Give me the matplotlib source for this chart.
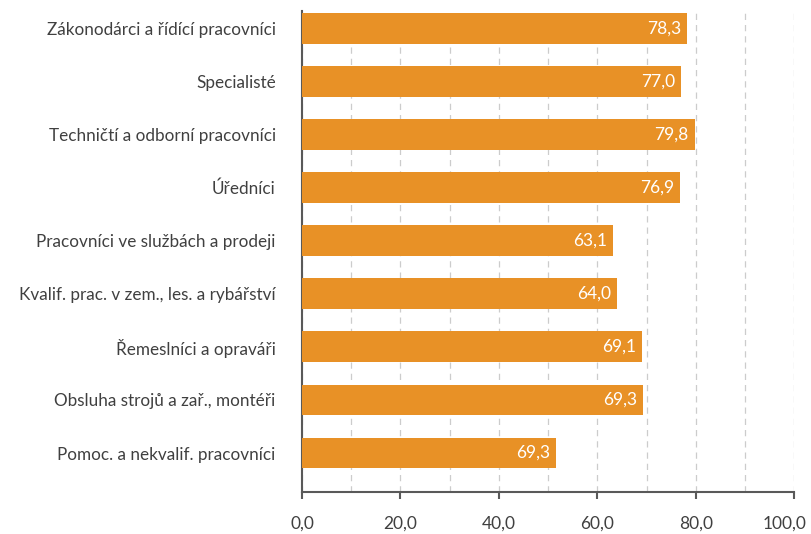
import matplotlib.pyplot as plt
import matplotlib.transforms as mtransforms
import numpy as np

categories = [
    "Zákonodárci a řídící pracovníci",
    "Specialisté",
    "Techničtí a odborní pracovníci",
    "Úředníci",
    "Pracovníci ve službách a prodeji",
    "Kvalif. prac. v zem., les. a rybářství",
    "Řemeslníci a opraváři",
    "Obsluha strojů a zař., montéři",
    "Pomoc. a nekvalif. pracovníci",
]
# bar lengths as drawn in the picture
values = [78.3, 77.0, 79.8, 76.9, 63.1, 64.0, 69.1, 69.3, 51.6]
# labels as printed on the bars
labels = ["78,3", "77,0", "79,8", "76,9", "63,1", "64,0", "69,1", "69,3", "69,3"]
ticks = [0, 20, 40, 60, 80, 100]


def main():
    plt.rcParams["font.family"] = ["Lato", "DejaVu Sans"]
    fig = plt.figure(figsize=(8.12, 5.34), dpi=100)
    ax = fig.add_axes([0.372, 0.079, 0.606, 0.900])

    y = np.arange(len(categories))
    ax.barh(y, values, height=0.58, color="#E89126", zorder=3)

    for yi, v, lab in zip(y, values, labels):
        ax.text(v - 1.2, yi, lab, ha="right", va="center", color="white",
                fontsize=12.5, zorder=4)

    ax.set_yticks(y)
    ax.set_yticklabels(categories, fontsize=12.3, color="#404040")
    ax.tick_params(axis="y", length=0, pad=19)
    ax.set_ylim(8.73, -0.32)

    ax.set_xlim(0, 100)
    ax.set_xticks(ticks)
    ax.set_xticklabels(["{:.1f}".format(t).replace(".", ",") for t in ticks],
                       fontsize=12.5, color="#404040")
    ax.set_xticks(np.arange(10, 101, 10), minor=True)
    ax.tick_params(axis="x", which="major", length=5, width=1.5,
                   color="#595959", pad=12)
    ax.tick_params(axis="x", which="minor", length=0)
    ax.grid(axis="x", which="both", linestyle=(0, (5, 4)), color="#cccccc",
            linewidth=0.9, zorder=0)

    # keep the last tick label inside the figure
    last = ax.get_xticklabels()[-1]
    last.set_transform(last.get_transform() +
                       mtransforms.ScaledTranslation(-7 / 72, 0, fig.dpi_scale_trans))

    for s in ["top", "right"]:
        ax.spines[s].set_visible(False)
    ax.spines["left"].set_color("#595959")
    ax.spines["left"].set_linewidth(1.5)
    ax.spines["bottom"].set_color("#595959")
    ax.spines["bottom"].set_linewidth(1.5)

    fig.savefig("out.png", dpi=100)


if __name__ == '__main__':
    main()
